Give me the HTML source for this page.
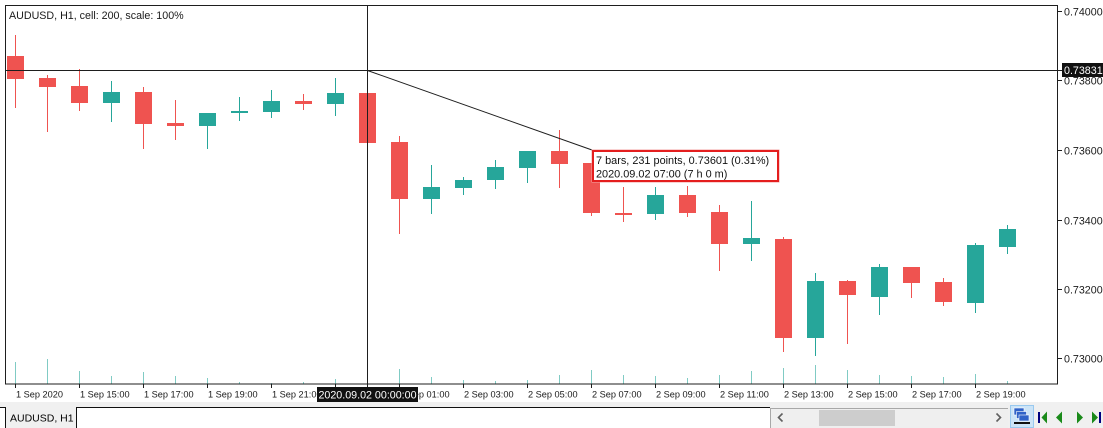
<!DOCTYPE html>
<html>
<head>
<meta charset="utf-8">
<style>
  html,body{margin:0;padding:0;background:#fff;}
  body{width:1103px;height:428px;overflow:hidden;}
  svg{display:block;}
  text{font-family:"Liberation Sans",Arial,sans-serif;}
</style>
</head>
<body>
<svg width="1103" height="428" viewBox="0 0 1103 428" xmlns="http://www.w3.org/2000/svg">
  <rect x="0" y="0" width="1103" height="428" fill="#ffffff"/>

  <!-- volume bars -->
  <g fill="#80cbc4" shape-rendering="crispEdges">
    <rect x="15" y="362" width="1" height="22"/>
    <rect x="47" y="359" width="1" height="25"/>
    <rect x="79" y="371" width="1" height="13"/>
    <rect x="111" y="376" width="1" height="8"/>
    <rect x="143" y="372" width="1" height="12"/>
    <rect x="175" y="376" width="1" height="8"/>
    <rect x="207" y="378" width="1" height="6"/>
    <rect x="239" y="382" width="1" height="2"/>
    <rect x="271" y="383" width="1" height="1"/>
    <rect x="303" y="382" width="1" height="2"/>
    <rect x="335" y="379" width="1" height="5"/>
    <rect x="399" y="369" width="1" height="15"/>
    <rect x="431" y="377" width="1" height="7"/>
    <rect x="463" y="380" width="1" height="4"/>
    <rect x="495" y="381" width="1" height="3"/>
    <rect x="527" y="380" width="1" height="4"/>
    <rect x="559" y="375" width="1" height="9"/>
    <rect x="591" y="370" width="1" height="14"/>
    <rect x="623" y="375" width="1" height="9"/>
    <rect x="655" y="376" width="1" height="8"/>
    <rect x="687" y="378" width="1" height="6"/>
    <rect x="719" y="375" width="1" height="9"/>
    <rect x="751" y="371" width="1" height="13"/>
    <rect x="783" y="368" width="1" height="16"/>
    <rect x="815" y="365" width="1" height="19"/>
    <rect x="847" y="370" width="1" height="14"/>
    <rect x="879" y="375" width="1" height="9"/>
    <rect x="911" y="376" width="1" height="8"/>
    <rect x="943" y="377" width="1" height="7"/>
    <rect x="975" y="374" width="1" height="10"/>
    <rect x="1007" y="381" width="1" height="3"/>
  </g>

  <!-- bearish candles -->
  <g fill="#ef5350" shape-rendering="crispEdges">
    <rect x="15" y="35" width="1" height="73"/><rect x="7" y="56" width="17" height="23"/>
    <rect x="47" y="75" width="1" height="57"/><rect x="39" y="78" width="17" height="9"/>
    <rect x="79" y="69" width="1" height="42"/><rect x="71" y="86" width="17" height="17"/>
    <rect x="143" y="87" width="1" height="62"/><rect x="135" y="92" width="17" height="32"/>
    <rect x="175" y="100" width="1" height="40"/><rect x="167" y="123" width="17" height="3"/>
    <rect x="303" y="94" width="1" height="16"/><rect x="295" y="101" width="17" height="3"/>
    <rect x="367" y="93" width="1" height="52"/><rect x="359" y="93" width="17" height="50"/>
    <rect x="399" y="136" width="1" height="98"/><rect x="391" y="142" width="17" height="57"/>
    <rect x="559" y="130" width="1" height="58"/><rect x="551" y="151" width="17" height="13"/>
    <rect x="591" y="163" width="1" height="53"/><rect x="583" y="163" width="17" height="50"/>
    <rect x="623" y="187" width="1" height="35"/><rect x="615" y="213" width="17" height="2"/>
    <rect x="687" y="186" width="1" height="31"/><rect x="679" y="195" width="17" height="18"/>
    <rect x="719" y="205" width="1" height="66"/><rect x="711" y="212" width="17" height="32"/>
    <rect x="783" y="237" width="1" height="115"/><rect x="775" y="239" width="17" height="99"/>
    <rect x="847" y="280" width="1" height="64"/><rect x="839" y="281" width="17" height="14"/>
    <rect x="911" y="267" width="1" height="31"/><rect x="903" y="267" width="17" height="16"/>
    <rect x="943" y="278" width="1" height="28"/><rect x="935" y="282" width="17" height="20"/>
  </g>

  <!-- bullish candles -->
  <g fill="#26a69a" shape-rendering="crispEdges">
    <rect x="111" y="81" width="1" height="41"/><rect x="103" y="92" width="17" height="11"/>
    <rect x="207" y="113" width="1" height="36"/><rect x="199" y="113" width="17" height="13"/>
    <rect x="239" y="97" width="1" height="24"/><rect x="231" y="111" width="17" height="2"/>
    <rect x="271" y="90" width="1" height="28"/><rect x="263" y="101" width="17" height="11"/>
    <rect x="335" y="78" width="1" height="38"/><rect x="327" y="93" width="17" height="11"/>
    <rect x="431" y="165" width="1" height="49"/><rect x="423" y="187" width="17" height="12"/>
    <rect x="463" y="177" width="1" height="18"/><rect x="455" y="180" width="17" height="8"/>
    <rect x="495" y="160" width="1" height="29"/><rect x="487" y="167" width="17" height="13"/>
    <rect x="527" y="151" width="1" height="32"/><rect x="519" y="151" width="17" height="17"/>
    <rect x="655" y="187" width="1" height="33"/><rect x="647" y="195" width="17" height="19"/>
    <rect x="751" y="201" width="1" height="60"/><rect x="743" y="238" width="17" height="6"/>
    <rect x="815" y="273" width="1" height="83"/><rect x="807" y="281" width="17" height="57"/>
    <rect x="879" y="264" width="1" height="51"/><rect x="871" y="267" width="17" height="30"/>
    <rect x="975" y="243" width="1" height="70"/><rect x="967" y="245" width="17" height="58"/>
    <rect x="1007" y="225" width="1" height="29"/><rect x="999" y="229" width="17" height="18"/>
  </g>

  <!-- crosshair -->
  <g stroke="#1e1e1e" stroke-width="1" shape-rendering="crispEdges">
    <line x1="367.5" y1="5" x2="367.5" y2="387"/>
    <line x1="5" y1="70.5" x2="1062" y2="70.5"/>
  </g>
  <!-- measurement line -->
  <line x1="367.5" y1="70.5" x2="592" y2="150" stroke="#1e1e1e" stroke-width="1"/>

  <!-- tooltip -->
  <rect x="592" y="150" width="187" height="32" fill="#ffffff" stroke="#f3a3a3" stroke-width="1"/>
  <rect x="593" y="151" width="185" height="30" fill="#ffffff" stroke="#e41e1e" stroke-width="2"/>
  <text x="596" y="164" font-size="10.9" fill="#111">7 bars, 231 points, 0.73601 (0.31%)</text>
  <text x="596" y="177.5" font-size="10.9" fill="#111">2020.09.02 07:00 (7 h 0 m)</text>

  <!-- frame -->
  <g stroke="#1e1e1e" stroke-width="1" fill="none" shape-rendering="crispEdges">
    <rect x="5.5" y="5.5" width="1052" height="378.5"/>
  </g>

  <!-- header -->
  <text x="9" y="19" font-size="10.7" fill="#1a1a1a">AUDUSD, H1, cell: 200, scale: 100%</text>

  <!-- price axis ticks -->
  <g stroke="#1e1e1e" stroke-width="1" shape-rendering="crispEdges">
    <line x1="1058" y1="11.5" x2="1062" y2="11.5"/>
    <line x1="1058" y1="80.5" x2="1062" y2="80.5"/>
    <line x1="1058" y1="150.5" x2="1062" y2="150.5"/>
    <line x1="1058" y1="220.5" x2="1062" y2="220.5"/>
    <line x1="1058" y1="289.5" x2="1062" y2="289.5"/>
    <line x1="1058" y1="358.5" x2="1062" y2="358.5"/>
  </g>
  <g font-size="10.7" fill="#1a1a1a">
    <text x="1064" y="15.5">0.74000</text>
    <text x="1064" y="84.5">0.73800</text>
    <text x="1064" y="154.5">0.73600</text>
    <text x="1064" y="224.5">0.73400</text>
    <text x="1064" y="293.5">0.73200</text>
    <text x="1064" y="362.5">0.73000</text>
  </g>
  <!-- current crosshair price -->
  <rect x="1062" y="63" width="41" height="14" fill="#111"/>
  <text x="1064" y="74" font-size="10.7" fill="#ffffff">0.73831</text>

  <!-- time axis ticks -->
  <g stroke="#1e1e1e" stroke-width="1" shape-rendering="crispEdges">
    <line x1="15.5" y1="384" x2="15.5" y2="388"/>
    <line x1="79.5" y1="384" x2="79.5" y2="388"/>
    <line x1="143.5" y1="384" x2="143.5" y2="388"/>
    <line x1="207.5" y1="384" x2="207.5" y2="388"/>
    <line x1="271.5" y1="384" x2="271.5" y2="388"/>
    <line x1="335.5" y1="384" x2="335.5" y2="388"/>
    <line x1="399.5" y1="384" x2="399.5" y2="388"/>
    <line x1="463.5" y1="384" x2="463.5" y2="388"/>
    <line x1="527.5" y1="384" x2="527.5" y2="388"/>
    <line x1="591.5" y1="384" x2="591.5" y2="388"/>
    <line x1="655.5" y1="384" x2="655.5" y2="388"/>
    <line x1="719.5" y1="384" x2="719.5" y2="388"/>
    <line x1="783.5" y1="384" x2="783.5" y2="388"/>
    <line x1="847.5" y1="384" x2="847.5" y2="388"/>
    <line x1="911.5" y1="384" x2="911.5" y2="388"/>
    <line x1="975.5" y1="384" x2="975.5" y2="388"/>
  </g>
  <g font-size="9.2" fill="#1a1a1a">
    <text x="16" y="397.5">1 Sep 2020</text>
    <text x="80" y="397.5">1 Sep 15:00</text>
    <text x="144" y="397.5">1 Sep 17:00</text>
    <text x="208" y="397.5">1 Sep 19:00</text>
    <text x="272" y="397.5">1 Sep 21:00</text>
    <text x="400" y="397.5">2 Sep 01:00</text>
    <text x="464" y="397.5">2 Sep 03:00</text>
    <text x="528" y="397.5">2 Sep 05:00</text>
    <text x="592" y="397.5">2 Sep 07:00</text>
    <text x="656" y="397.5">2 Sep 09:00</text>
    <text x="720" y="397.5">2 Sep 11:00</text>
    <text x="784" y="397.5">2 Sep 13:00</text>
    <text x="848" y="397.5">2 Sep 15:00</text>
    <text x="912" y="397.5">2 Sep 17:00</text>
    <text x="976" y="397.5">2 Sep 19:00</text>
  </g>
  <!-- crosshair date box -->
  <rect x="317" y="387" width="101" height="15" fill="#111"/>
  <text x="367.5" y="398.5" font-size="10.7" fill="#ffffff" text-anchor="middle">2020.09.02 00:00:00</text>

  <!-- bottom tab bar -->
  <rect x="0" y="402" width="1103" height="5" fill="#f0f0f0"/>
  <rect x="770" y="407" width="333" height="21" fill="#f0f0f0"/>
  <rect x="0" y="407" width="770" height="1" fill="#111"/>
  <rect x="5" y="407" width="72" height="21" fill="#f0f0f0"/>
  <rect x="5" y="407" width="1" height="21" fill="#111"/>
  <rect x="76" y="407" width="1" height="21" fill="#111"/>
  <text x="10" y="421.5" font-size="10.5" fill="#000">AUDUSD, H1</text>

  <!-- scrollbar -->
  <rect x="770" y="408" width="238" height="20" fill="#efefef"/>
  <rect x="770" y="408" width="238" height="1" fill="#a8a8a8"/>
  <rect x="770" y="408" width="1" height="20" fill="#a8a8a8"/>
  <rect x="819" y="410" width="76" height="16" fill="#cdcdcd"/>
  <polyline points="782.5,413.5 778.5,417.5 782.5,421.5" fill="none" stroke="#606060" stroke-width="1.6"/>
  <polyline points="996.5,413.5 1000.5,417.5 996.5,421.5" fill="none" stroke="#606060" stroke-width="1.6"/>

  <!-- icon button -->
  <rect x="1010.5" y="405.5" width="23" height="22" fill="#cce4f7" stroke="#99c9ef" stroke-width="1"/>
  <g stroke="#ffffff" stroke-width="0.6">
    <rect x="1014" y="408" width="10" height="7" fill="#2f62c8"/>
    <rect x="1016.5" y="411.5" width="10" height="7" fill="#2f62c8"/>
    <rect x="1019" y="415" width="10" height="6" fill="#2f62c8"/>
  </g>
  <rect x="1014" y="422" width="16" height="2" fill="#111"/>

  <!-- navigation arrows -->
  <rect x="1038" y="412" width="2" height="11" fill="#00007f"/>
  <polygon points="1047,411.5 1041.5,417.5 1047,423.5" fill="#1a8a1a"/>
  <polygon points="1062,411.5 1056,417.5 1062,423.5" fill="#1a8a1a"/>
  <polygon points="1077,411.5 1083,417.5 1077,423.5" fill="#1a8a1a"/>
  <polygon points="1092,411.5 1098,417.5 1092,423.5" fill="#1a8a1a"/>
  <rect x="1099" y="412" width="2" height="11" fill="#00007f"/>
</svg>
</body>
</html>
